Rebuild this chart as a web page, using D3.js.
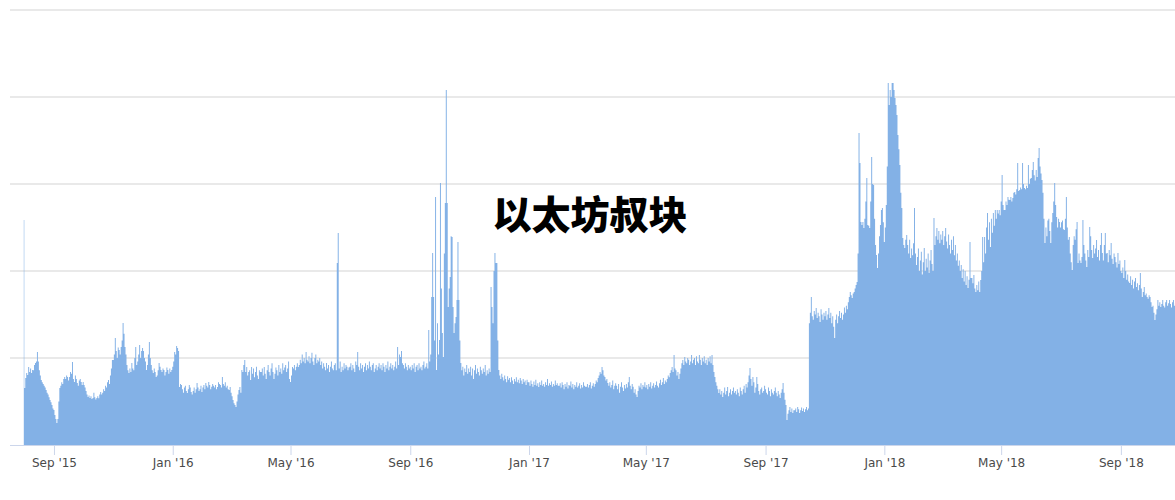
<!DOCTYPE html>
<html>
<head>
<meta charset="utf-8">
<script src="https://cdn.jsdelivr.net/npm/d3@7"></script>
<style>
  html, body { margin: 0; padding: 0; background: #fff; }
  svg { display: block; }
</style>
</head>
<body>
<svg id="chart" width="1175" height="500"></svg>
<script>
// ---- DATA ----
const title = "以太坊叔块";
const startDate = "2015-08-01"; // first daily value
const yTicks = [500, 1000, 1500, 2000, 2500];
const tickDates = ["2015-09-01","2016-01-01","2016-05-01","2016-09-01","2017-01-01","2017-05-01","2017-09-01","2018-01-01","2018-05-01","2018-09-01"];

// daily uncle blocks, Aug 2015 - Dec 2015
const uncles2015 = [
  1293,328,385,414,402,448,420,440,414,431,430,460,471,480,534,480,430,400,374,360,350,340,330,316,300,290,275,259,245,230,210,
  201,172,150,126,150,250,328,340,360,350,380,391,380,400,391,370,391,420,410,477,380,362,400,380,356,340,370,380,362,345,
  362,345,330,310,290,276,285,270,280,265,270,300,275,262,270,280,268,290,305,290,300,320,310,340,330,360,374,350,400,440,489,
  489,520,615,540,500,560,546,520,563,600,701,640,563,520,460,430,414,440,420,471,440,430,500,563,460,480,520,575,500,540,
  557,540,500,480,431,460,520,592,500,460,430,414,440,420,391,400,430,471,450,431,420,440,431,400,420,445,431,410,440,420,431
];
const uncles2016 = [
  450,480,534,520,569,557,540,333,350,345,320,300,330,340,310,299,320,345,330,305,290,310,330,300,320,356,330,310,320,340,305,
  330,345,320,356,340,330,362,345,320,335,350,340,330,345,320,333,360,350,345,330,391,350,340,360,330,340,320,316,333,
  300,280,259,240,230,218,250,290,316,333,300,431,420,460,489,420,448,400,420,430,374,448,410,440,390,420,450,400,380,430,420,
  420,440,400,448,410,380,430,460,420,400,440,470,420,380,410,445,430,400,460,420,440,410,470,430,445,460,420,440,480,380,
  362,400,448,440,460,430,450,470,448,460,490,470,520,480,500,470,534,490,480,510,470,500,530,480,460,500,520,470,490,480,500,
  460,480,440,470,450,430,471,440,460,420,450,480,440,430,460,470,430,1046,1218,440,480,420,450,430,470,440,460,450,430,445,
  450,470,430,460,440,420,480,460,534,450,430,470,440,460,420,450,470,430,460,440,480,450,430,460,470,420,440,460,430,450,470,
  440,460,430,470,450,420,460,440,480,430,450,470,440,460,430,450,480,440,563,460,520,506,540,470,460,440,470,450,430,460,440,
  450,430,460,440,470,420,450,460,430,470,440,450,430,460,480,440,450,470,440,661,480,520,851,1103,851,600,1425,431,700,520,
  603,1506,900,644,506,1100,1391,2040,1391,793,900,966,1200,1195,793,644,700,736,833,1166,833,600,471,430,450,400,440,420,460,410,440,
  420,450,400,440,380,430,460,410,440,420,400,450,430,410,440,420,460,400,430,410,440,420,908,793,700,1000,1103,1046,1046,600,
  431,400,380,410,390,370,400,380,360,395,375,385,360,390,370,350,380,365,390,360,375,355,385,370,350,380,360,370,345,375,360
];
const uncles2017 = [
  360,340,370,350,335,365,345,375,340,355,333,360,345,370,340,350,335,360,345,380,340,355,345,365,335,350,340,370,345,355,340,
  340,355,330,360,345,320,350,335,360,325,345,340,365,330,350,320,345,335,360,330,340,355,325,345,330,360,340,335,
  335,350,330,345,360,325,340,355,335,350,370,360,385,400,420,410,448,430,400,391,370,380,356,340,360,330,345,370,320,340,355,
  340,320,350,300,335,360,330,310,345,325,350,330,360,391,340,320,350,335,300,320,290,276,310,340,330,355,320,345,335,360,
  330,345,320,350,335,360,325,340,355,330,345,365,340,330,355,375,345,360,385,350,370,360,380,400,390,414,430,448,420,517,440,
  430,400,420,380,410,440,470,489,460,506,480,470,500,490,460,480,517,470,490,500,460,510,480,470,517,490,460,500,480,510,
  470,490,460,500,480,510,470,517,460,420,391,360,340,320,299,320,290,310,276,300,330,290,310,333,280,300,320,290,310,330,300,
  310,290,320,300,280,330,310,290,320,340,300,350,330,360,400,443,380,340,391,360,300,330,391,350,310,290,320,330,300,310,340,
  320,300,290,330,310,280,320,300,290,310,330,300,280,310,290,270,300,320,356,300,260,230,144,180,200,218,190,210,184,200,
  200,210,190,218,205,184,200,215,195,210,190,205,218,200,210,700,760,851,740,720,770,750,787,730,760,740,707,780,750,720,760,
  740,770,720,750,787,730,760,700,740,680,615,720,750,700,740,770,730,760,720,750,790,760,800,780,820,850,880,860,845,870,
  880,900,920,937,1100,1793,1621,1282,1264,1282,1247,1300,1400,1534,1264,1260,1247,1400,1655,1500,1494,1300,1150,1092,1017,1100,1200,1264,1350,1362,1280
];
// Jan 2018 - Oct 27 2018
const uncles2018 = [
  1166,1250,1379,1600,2080,1954,2040,2000,2080,2080,2040,1994,1954,1897,1782,1700,1609,1450,1362,1190,1150,1132,1180,1207,1150,1100,1180,1075,1130,1090,1160,
  1362,1100,1034,1080,1130,1000,1060,1110,980,1050,1132,1000,1070,1020,1100,990,1060,1120,1040,1000,1305,1150,1200,1247,1180,1230,1160,1210,
  1180,1230,1150,1200,1247,1170,1130,1210,1150,1100,1180,1120,1200,1090,1150,1060,1100,1030,1060,1000,1034,960,1010,940,1000,920,970,902,950,1166,960,
  960,930,977,900,879,920,890,940,879,948,1000,1195,1050,1195,1100,1250,1333,1180,1280,1138,1300,1220,1333,1260,1351,1300,1351,1330,1351,1320,
  1400,1552,1380,1351,1351,1400,1380,1425,1410,1408,1425,1400,1420,1450,1454,1440,1470,1621,1460,1465,1480,1470,1621,1500,1477,1470,1490,1477,1609,1500,1530,
  1534,1580,1626,1550,1520,1580,1540,1650,1707,1600,1560,1523,1450,1300,1161,1250,1200,1290,1300,1230,1161,1280,1333,1400,1506,1380,1310,1250,1300,1282,
  1250,1280,1290,1240,1236,1300,1425,1250,1180,1195,1100,1050,1006,1150,1200,1180,1240,1282,1046,1100,1060,1046,1080,1293,1150,1100,1060,1023,1120,1080,1253,
  1200,1120,1075,1150,1100,1130,1178,1080,1120,1060,1150,1218,1103,1060,1150,1218,1100,1103,1050,1120,1090,1161,1070,1040,1100,1080,1050,1020,1103,1040,1060,
  1000,989,1020,960,1063,1000,950,980,940,931,970,920,950,900,940,960,908,930,890,920,989,900,851,880,908,860,870,851,840,860,
  851,820,793,800,760,718,750,780,833,800,820,793,810,833,800,790,820,833,800,815,833,810,790,820,833,800,815
];

// ---- BUILD ----
const values = [].concat(uncles2015, uncles2016, uncles2017, uncles2018);
const start = d3.utcParse("%Y-%m-%d")(startDate);
const data = values.map((v, i) => ({ date: d3.utcDay.offset(start, i), value: v }));

const svg = d3.select("#chart");
const plotLeft = 10, plotRight = 1175, plotTop = 10, plotBottom = 445;

const x = d3.scaleUtc()
  .domain([data[0].date, data[data.length - 1].date])
  .range([23.8, 1175.4]);
const y = d3.scaleLinear().domain([0, 2500]).range([plotBottom, plotTop]);

// gridlines
svg.append("g").selectAll("line").data(yTicks).join("line")
  .attr("x1", plotLeft).attr("x2", plotRight)
  .attr("y1", d => y(d)).attr("y2", d => y(d))
  .attr("stroke", "#e2e2e2").attr("stroke-width", 1.6);

// area (column-like steps)
const area = d3.area()
  .x(d => x(d.date))
  .y0(y(0))
  .y1(d => y(d.value))
  .curve(d3.curveStep);
svg.append("path").datum(data)
  .attr("d", area)
  .attr("fill", "#83b1e6");

// x axis
const ticks = tickDates.map(s => d3.utcParse("%Y-%m-%d")(s));
const axis = d3.axisBottom(x)
  .tickValues(ticks)
  .tickFormat(d3.utcFormat("%b '%y"))
  .tickSize(10)
  .tickSizeOuter(0);
const gx = svg.append("g").attr("transform", `translate(0,${plotBottom})`).call(axis);
gx.select(".domain").remove();
gx.selectAll(".tick line").attr("stroke", "#ccd6eb").attr("stroke-width", 1);
gx.selectAll(".tick text")
  .attr("y", 13)
  .attr("fill", "#4a4a4a")
  .style("font-family", "'DejaVu Sans', sans-serif")
  .style("font-size", "12px");
svg.append("line")
  .attr("x1", plotLeft).attr("x2", plotRight)
  .attr("y1", plotBottom + 0.5).attr("y2", plotBottom + 0.5)
  .attr("stroke", "#ccd6eb").attr("stroke-width", 1);

// title
svg.append("text")
  .attr("x", 590).attr("y", 229)
  .attr("text-anchor", "middle")
  .style("font-family", "'Noto Sans CJK SC', sans-serif")
  .style("font-weight", 900)
  .style("font-size", "39px")
  .attr("fill", "#000")
  .attr("stroke", "#fff").attr("stroke-width", 3)
  .style("paint-order", "stroke")
  .text(title);
</script>
</body>
</html>
